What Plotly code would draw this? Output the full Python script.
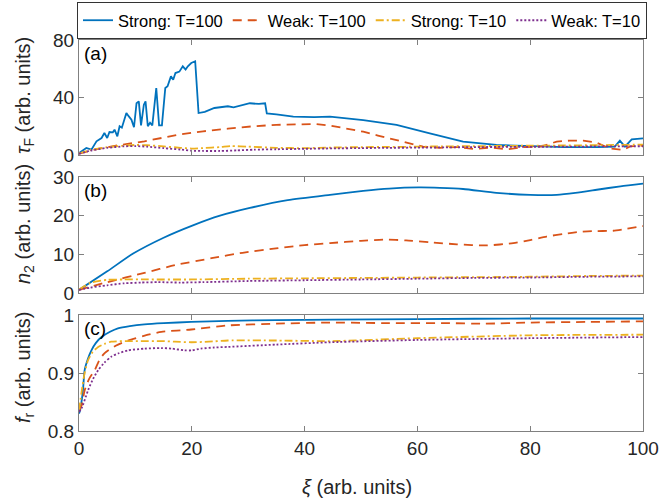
import plotly.graph_objects as go

# ---------------- data ----------------
series_names = ["Strong: T=100", "Weak: T=100", "Strong: T=10", "Weak: T=10"]

# panel (a): tau_F
a_strong100_x = [0, 1.3, 2.2, 3.1, 4.0, 4.5, 5.0, 5.4, 6.0, 6.3, 6.8, 7.2, 7.6, 8.0, 8.4, 8.8, 9.3, 9.75,
                 10.2, 10.6, 11.0, 11.5, 11.8, 12.2, 12.6, 13.0, 13.7, 14.2, 14.7, 15.3, 15.7, 16.3, 16.7,
                 17.1, 17.8, 18.4, 18.9, 19.3, 19.9, 20.6, 21.2, 22.3, 24.0, 26.4, 27.4, 30.3, 31.9, 33.0,
                 33.3, 35.0, 38.0, 41.7, 44.5, 50.4, 56.3, 62.2, 68.1, 74.0, 80.0, 86.0, 92.0, 95.0, 95.9,
                 96.8, 98.0, 100.0]
a_strong100_y = [1.4, 4.9, 3.7, 9.5, 11.8, 15.3, 11.8, 16.0, 15.8, 17.6, 13.0, 20.0, 19.0, 24.6, 29.2, 27.0,
                 24.6, 19.3, 36.0, 37.3, 20.6, 35.0, 37.3, 20.0, 22.5, 20.6, 46.6, 20.6, 20.6, 46.6, 47.8,
                 54.7, 52.4, 57.0, 58.0, 61.7, 59.4, 61.7, 64.0, 65.2, 29.2, 30.0, 32.7, 33.9, 33.2, 36.0,
                 35.5, 36.0, 29.0, 28.3, 26.7, 26.4, 26.7, 24.3, 20.9, 15.1, 9.3, 7.0, 6.0, 5.5, 5.5, 5.8,
                 10.0, 5.8, 10.9, 11.6]
a_weak100_x = [0, 3, 6.9, 11.6, 17.6, 22, 26.4, 30.9, 35, 39.8, 42, 44.5, 47, 50.4, 53, 56.3, 58.5, 61, 64,
               67, 70, 73, 76, 79, 82, 84.7, 87, 89.4, 91.7, 94.1, 96.5, 97.7, 100]
a_weak100_y = [1.0, 4.0, 6.7, 9.5, 14.1, 16.5, 18.3, 20.0, 21.0, 21.6, 21.5, 20.5, 18.5, 16.2, 13.5, 10.4,
               8.0, 5.8, 5.0, 5.5, 4.2, 5.2, 4.0, 5.5, 6.0, 9.3, 10.0, 10.0, 8.7, 4.6, 3.5, 6.0, 6.5]
a_strong10_x = [0, 2, 5, 8, 10, 12, 15, 18, 20, 22, 25, 27, 30, 35, 40, 45, 50, 55, 60, 65, 70, 75, 80, 85,
                90, 95, 100]
a_strong10_y = [1.0, 3.5, 5.5, 6.5, 7.0, 6.8, 6.0, 5.0, 4.5, 4.8, 5.5, 6.2, 5.8, 5.0, 4.8, 5.2, 5.5, 5.6,
                5.8, 6.0, 6.2, 6.3, 6.5, 6.6, 6.8, 7.0, 7.2]
a_weak10_x = [0, 2, 5, 8, 10, 12, 15, 18, 20, 22, 25, 28, 31, 35, 40, 45, 50, 55, 60, 65, 70, 75, 80, 85,
              90, 95, 100]
a_weak10_y = [0.8, 3.0, 5.0, 6.0, 6.2, 5.8, 4.8, 3.8, 3.0, 2.8, 2.8, 3.2, 3.7, 4.0, 4.3, 4.6, 4.8, 5.0, 5.1,
              5.3, 5.5, 5.6, 5.7, 5.8, 5.9, 6.0, 6.1]

# panel (b): n_2
b_strong100_x = [0, 5, 9.6, 15, 20.2, 25, 30.3, 37, 44.5, 50.4, 55, 60.2, 64, 68.1, 74, 80, 84.7, 88, 91.8,
                 96, 100]
b_strong100_y = [0.8, 5.6, 10.2, 14.3, 17.5, 20.0, 22.0, 24.0, 25.4, 26.4, 27.0, 27.3, 27.2, 26.9, 25.9,
                 25.4, 25.4, 25.9, 26.7, 27.6, 28.3]
b_weak100_x = [0, 5, 11.6, 17, 23.5, 29, 35.3, 40, 44.5, 50, 54.3, 58, 62.2, 67, 72.3, 77, 80, 82.9, 86,
               88.8, 91, 94.7, 97, 100]
b_weak100_y = [0.8, 2.8, 5.2, 7.2, 9.0, 10.4, 11.6, 12.4, 12.9, 13.5, 13.8, 13.6, 13.1, 12.6, 12.3, 12.9,
               13.7, 14.6, 15.3, 15.8, 16.0, 16.1, 16.6, 17.3]
b_strong10_x = [0, 2, 5, 8, 12, 20, 30, 40, 50, 60, 70, 80, 90, 100]
b_strong10_y = [0.9, 2.6, 3.4, 3.5, 3.5, 3.5, 3.7, 3.8, 3.9, 4.0, 4.1, 4.2, 4.4, 4.5]
b_weak10_x = [0, 2, 5, 8, 11, 14, 18, 22, 30, 40, 50, 60, 70, 80, 90, 100]
b_weak10_y = [0.8, 1.4, 2.0, 2.5, 2.7, 2.8, 2.7, 2.8, 3.1, 3.3, 3.5, 3.7, 3.9, 4.0, 4.2, 4.3]

# panel (c): f_r
c_strong100_x = [0, 0.2, 0.7, 1.0, 1.6, 2.2, 3, 4, 5.5, 6.9, 9, 11.6, 15, 19.9, 26.4, 35, 45, 60, 80, 100]
c_strong100_y = [0.83, 0.836, 0.87, 0.905, 0.925, 0.939, 0.952, 0.962, 0.971, 0.977, 0.981, 0.984, 0.986,
                 0.988, 0.990, 0.991, 0.992, 0.993, 0.994, 0.994]
c_weak100_x = [0, 0.5, 1, 1.8, 2.8, 3.6, 4.5, 6.5, 8.7, 11.5, 14.6, 19.9, 26.4, 35, 44.5, 55, 65, 72, 80,
               90, 100]
c_weak100_y = [0.835, 0.845, 0.87, 0.89, 0.905, 0.922, 0.934, 0.947, 0.956, 0.964, 0.971, 0.975, 0.982,
               0.985, 0.987, 0.986, 0.986, 0.985, 0.987, 0.988, 0.989]
c_strong10_x = [0, 0.5, 1.0, 1.6, 2.4, 3.4, 4.5, 5.7, 8.7, 11, 14.6, 17, 19.9, 23, 26.4, 35, 44.5, 60, 80,
                100]
c_strong10_y = [0.835, 0.87, 0.9, 0.922, 0.936, 0.945, 0.95, 0.954, 0.955, 0.955, 0.955, 0.954, 0.953,
                0.954, 0.956, 0.956, 0.955, 0.96, 0.965, 0.966]
c_weak10_x = [0, 0.5, 1.6, 2.5, 3.4, 4.5, 5.7, 7, 8.7, 11.6, 14.6, 16.5, 18.7, 20, 21.6, 24, 26.4, 35, 44.5,
              60, 80, 100]
c_weak10_y = [0.833, 0.84, 0.87, 0.89, 0.905, 0.918, 0.928, 0.934, 0.939, 0.942, 0.943, 0.942, 0.939,
              0.939, 0.942, 0.944, 0.945, 0.949, 0.953, 0.957, 0.960, 0.962]

ticks_a = [0, 40, 80]
ticks_b = [0, 10, 20, 30]
ticks_c = [0.8, 0.9, 1.0]
ticks_c_text = ["0.8", "0.9", "1"]
ticks_x = [0, 20, 40, 60, 80, 100]

# ---------------- styling ----------------
colors = ["#0072BD", "#D95319", "#EDB120", "#7E2F8E"]
dashes = ["solid", "9px,6px", "8px,3px,2px,3px", "2px,2px"]
FONT = "Liberation Sans, Arial, sans-serif"
TXT = "#262626"
AX = "#808080"

fig = go.Figure()

panels = [
    ("x", "y", [(a_strong100_x, a_strong100_y), (a_weak100_x, a_weak100_y),
                (a_strong10_x, a_strong10_y), (a_weak10_x, a_weak10_y)]),
    ("x2", "y2", [(b_strong100_x, b_strong100_y), (b_weak100_x, b_weak100_y),
                  (b_strong10_x, b_strong10_y), (b_weak10_x, b_weak10_y)]),
    ("x3", "y3", [(c_strong100_x, c_strong100_y), (c_weak100_x, c_weak100_y),
                  (c_strong10_x, c_strong10_y), (c_weak10_x, c_weak10_y)]),
]
for pi, (xa, ya, data) in enumerate(panels):
    for si, (xs, ys) in enumerate(data):
        smooth = not (pi == 0 and si in (0, 1))
        fig.add_trace(go.Scatter(
            x=xs, y=ys, xaxis=xa, yaxis=ya, mode="lines",
            name=series_names[si], showlegend=(pi == 0),
            line=dict(color=colors[si], width=1.8, dash=dashes[si],
                      shape="spline" if smooth else "linear", smoothing=0.6),
        ))

# plot area in pixels: x 79..643, panels a 40..155, b 177..293, c 315..431
W, H = 660, 502
L, R, T, B = 79, 643, 40, 431
ph = B - T
def dom(top, bot):
    return [(B - bot) / ph, (B - top) / ph]

def px_x(p):
    return (p - L) / (R - L)

def px_y(p):
    return (B - p) / ph

common_x = dict(range=[0, 100], tickvals=ticks_x, ticks="inside", ticklen=5, tickcolor=AX,
                showline=True, linecolor=AX, linewidth=1, mirror="ticks", showgrid=False,
                zeroline=False, tickfont=dict(family=FONT, size=19, color=TXT))
common_y = dict(ticks="inside", ticklen=5, tickcolor=AX, showline=True, linecolor=AX, linewidth=1,
                mirror="ticks", showgrid=False, zeroline=False,
                tickfont=dict(family=FONT, size=19, color=TXT))

fig.update_layout(
    width=W, height=H,
    margin=dict(l=L, r=W - R, t=T, b=H - B, autoexpand=False),
    paper_bgcolor="white", plot_bgcolor="white",
    font=dict(family=FONT, color=TXT),
    xaxis=dict(**common_x, anchor="y", showticklabels=False, domain=[0, 1]),
    xaxis2=dict(**common_x, anchor="y2", showticklabels=False, matches="x"),
    xaxis3=dict(**common_x, anchor="y3", showticklabels=True, matches="x"),
    yaxis=dict(**common_y, anchor="x", domain=dom(40, 155), range=[0, 80], tickvals=ticks_a),
    yaxis2=dict(**common_y, anchor="x2", domain=dom(177, 293), range=[0, 30], tickvals=ticks_b),
    yaxis3=dict(**common_y, anchor="x3", domain=dom(315, 431), range=[0.8, 1.0], tickvals=ticks_c,
                ticktext=ticks_c_text),
    legend=dict(orientation="h", x=px_x(77), xanchor="left",
                y=px_y(2), yanchor="top", bordercolor="#333333", borderwidth=1,
                bgcolor="white", font=dict(family=FONT, size=16.5, color="#000000"),
                itemwidth=30, tracegroupgap=0),
    showlegend=True,
)

ann = []
# panel tags
for lab, top in [("(a)", 40), ("(b)", 177), ("(c)", 315)]:
    ann.append(dict(text=lab, xref="paper", yref="paper", x=px_x(82), y=px_y(top + 1),
                    xanchor="left", yanchor="top", showarrow=False,
                    font=dict(family=FONT, size=19, color="#000000")))
# y labels
for txt, cy in [("<i>τ</i><sub>F</sub> (arb. units)", 96),
                ("<i>n</i><sub>2</sub> (arb. units)", 224),
                ("<i>f</i><sub>r</sub> (arb. units)", 368)]:
    ann.append(dict(text=txt, xref="paper", yref="paper", x=px_x(24), y=px_y(cy),
                    xanchor="center", yanchor="middle", textangle=-90, showarrow=False,
                    font=dict(family=FONT, size=20, color=TXT)))
# x label
ann.append(dict(text="<i>ξ</i> (arb. units)", xref="paper", yref="paper", x=px_x(357), y=px_y(487),
                xanchor="center", yanchor="middle", showarrow=False,
                font=dict(family=FONT, size=20, color=TXT)))
fig.update_layout(annotations=ann)

fig.write_html("out.html")
